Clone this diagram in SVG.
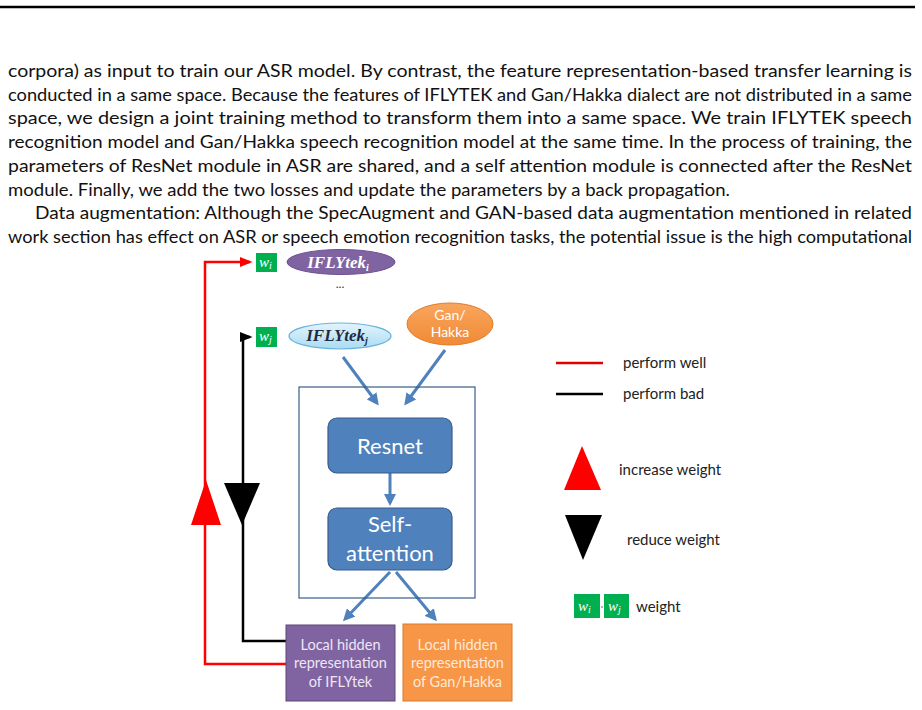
<svg xmlns="http://www.w3.org/2000/svg" width="922" height="710" viewBox="0 0 922 710">
<defs>
<style>
.body{font-family:Lato,"Liberation Sans",sans-serif;font-size:16.5px;fill:#111}
.lbl{font-family:Lato,"Liberation Sans",sans-serif;text-anchor:middle}
.leg{font-family:Lato,"Liberation Sans",sans-serif;font-size:15px;fill:#222}
.w{font-family:"Liberation Serif",serif;font-style:italic;fill:#fff;font-size:15px}
.ifly{font-family:"Liberation Serif",serif;font-style:italic;font-weight:bold;font-size:17px;text-anchor:middle}
.blue{stroke:#4F81BD;stroke-width:3;fill:none}
.wbox{fill:#00B050}
</style>
<marker id="ab" markerWidth="4" markerHeight="4" refX="3" refY="2" orient="auto" markerUnits="strokeWidth"><path d="M0,0 L4,2 L0,4 z" fill="#4F81BD"/></marker>
<marker id="ar" markerWidth="5" markerHeight="5" refX="4" refY="2.5" orient="auto" markerUnits="strokeWidth"><path d="M0,0.5 L5,2.5 L0,4.5 z" fill="#FF0000"/></marker>
<marker id="ak" markerWidth="5" markerHeight="5" refX="4" refY="2.5" orient="auto" markerUnits="strokeWidth"><path d="M0,0.5 L5,2.5 L0,4.5 z" fill="#000"/></marker>
<linearGradient id="gj" x1="0" y1="0" x2="0" y2="1"><stop offset="0" stop-color="#e3f4fc"/><stop offset="1" stop-color="#a9dcf2"/></linearGradient>
<linearGradient id="go" x1="0" y1="0" x2="0" y2="1"><stop offset="0" stop-color="#f9a65e"/><stop offset="1" stop-color="#f08a35"/></linearGradient>
</defs>
<rect width="922" height="710" fill="#fff"/>
<line x1="0" y1="7" x2="915" y2="7" stroke="#000" stroke-width="2.5"/>
<g id="text">
<text class="body" x="8" y="77" textLength="904" lengthAdjust="spacingAndGlyphs">corpora) as input to train our ASR model. By contrast, the feature representation-based transfer learning is</text>
<text class="body" x="8" y="100.7" textLength="904" lengthAdjust="spacingAndGlyphs">conducted in a same space. Because the features of IFLYTEK and Gan/Hakka dialect are not distributed in a same</text>
<text class="body" x="8" y="124.4" textLength="904" lengthAdjust="spacingAndGlyphs">space, we design a joint training method to transform them into a same space. We train IFLYTEK speech</text>
<text class="body" x="8" y="148.1" textLength="904" lengthAdjust="spacingAndGlyphs">recognition model and Gan/Hakka speech recognition model at the same time. In the process of training, the</text>
<text class="body" x="8" y="171.8" textLength="904" lengthAdjust="spacingAndGlyphs">parameters of ResNet module in ASR are shared, and a self attention module is connected after the ResNet</text>
<text class="body" x="8" y="195.5" textLength="722" lengthAdjust="spacingAndGlyphs">module. Finally, we add the two losses and update the parameters by a back propagation.</text>
<text class="body" x="35" y="219.2" textLength="877" lengthAdjust="spacingAndGlyphs">Data augmentation: Although the SpecAugment and GAN-based data augmentation mentioned in related</text>
<text class="body" x="8" y="242.9" textLength="904" lengthAdjust="spacingAndGlyphs">work section has effect on ASR or speech emotion recognition tasks, the potential issue is the high computational</text>
</g>
<g id="connectors">
<path d="M286,664 H205 V262 H250" fill="none" stroke="#FF0000" stroke-width="2.5" marker-end="url(#ar)"/>
<path d="M286,641 H243 V337 H250" fill="none" stroke="#000" stroke-width="2.5" marker-end="url(#ak)"/>
<line class="blue" x1="343" y1="357" x2="377" y2="403" marker-end="url(#ab)"/>
<line class="blue" x1="445" y1="350" x2="406" y2="403" marker-end="url(#ab)"/>
<line class="blue" x1="390" y1="473" x2="390" y2="503" marker-end="url(#ab)"/>
<line class="blue" x1="390" y1="572" x2="345" y2="619" marker-end="url(#ab)"/>
<line class="blue" x1="396" y1="572" x2="435" y2="619" marker-end="url(#ab)"/>
<polygon points="191,525 206,480 221,525" fill="#FF0000"/>
<polygon points="224,483 260,483 242,525" fill="#000"/>
</g>
<g id="wi">
<rect class="wbox" x="256" y="253" width="21" height="19"/>
<text class="w" x="259" y="267">w<tspan font-size="10" dy="2">i</tspan></text>
</g>
<g id="wj">
<rect class="wbox" x="256" y="327" width="21" height="20"/>
<text class="w" x="259" y="341">w<tspan font-size="10" dy="2">j</tspan></text>
</g>
<g id="iflytek-i">
<ellipse cx="341" cy="262" rx="54" ry="12.5" fill="#8064A2" stroke="#6a5090" stroke-width="1"/>
<text class="ifly" x="338" y="268" fill="#fff">IFLYtek<tspan font-size="10" dy="3">i</tspan></text>
</g>
<text x="340" y="288" font-family="Lato,sans-serif" font-size="12" text-anchor="middle" fill="#333">...</text>
<g id="iflytek-j">
<ellipse cx="340" cy="336" rx="51" ry="13" fill="url(#gj)" stroke="#6ab3dd" stroke-width="1.2"/>
<text class="ifly" x="337" y="341" fill="#1f2a44">IFLYtek<tspan font-size="10" dy="3">j</tspan></text>
</g>
<g id="ganhakka">
<ellipse cx="450" cy="324" rx="43" ry="21" fill="url(#go)" stroke="#e07b2a" stroke-width="1"/>
<text class="lbl" x="450" y="320" font-size="14" fill="#fff">Gan/</text>
<text class="lbl" x="450" y="337" font-size="14" fill="#fff">Hakka</text>
</g>
<g id="shared">
<rect x="299" y="387" width="176" height="211" fill="none" stroke="#385d8a" stroke-width="1.2"/>
</g>
<g id="resnet">
<rect x="328" y="418" width="124" height="55" rx="9" fill="#4F81BD" stroke="#385d8a" stroke-width="1.2"/>
<text class="lbl" x="390" y="454" font-size="22" fill="#fff">Resnet</text>
</g>
<g id="selfatt">
<rect x="328" y="508" width="124" height="62" rx="9" fill="#4F81BD" stroke="#385d8a" stroke-width="1.2"/>
<text class="lbl" x="390" y="532" font-size="22" fill="#fff">Self-</text>
<text class="lbl" x="390" y="561" font-size="22" fill="#fff">attention</text>
</g>
<g id="local-iflytek">
<rect x="286" y="625" width="109" height="76" fill="#8064A2" stroke="#5c4776" stroke-width="1"/>
<text class="lbl" x="340.5" y="650" font-size="14.5" fill="#eee6f5">Local hidden</text>
<text class="lbl" x="340.5" y="668" font-size="14.5" fill="#eee6f5">representation</text>
<text class="lbl" x="340.5" y="687" font-size="14.5" fill="#eee6f5">of IFLYtek</text>
</g>
<g id="local-gan">
<rect x="403" y="624" width="109" height="77" fill="#F79646" stroke="#d97a2e" stroke-width="1"/>
<text class="lbl" x="457.5" y="650" font-size="14.5" fill="#fde9d9">Local hidden</text>
<text class="lbl" x="457.5" y="668" font-size="14.5" fill="#fde9d9">representation</text>
<text class="lbl" x="457.5" y="687" font-size="14.5" fill="#fde9d9">of Gan/Hakka</text>
</g>
<g id="legend">
<line x1="556" y1="363" x2="603" y2="363" stroke="#e00000" stroke-width="2.5"/>
<text class="leg" x="623" y="368">perform well</text>
<line x1="556" y1="394" x2="603" y2="394" stroke="#000" stroke-width="2.5"/>
<text class="leg" x="623" y="399">perform bad</text>
<polygon points="564,490 582,446 601,490" fill="#FF0000"/>
<text class="leg" x="619" y="475">increase  weight</text>
<polygon points="565,515 602,515 583,560" fill="#000"/>
<text class="leg" x="627" y="545">reduce  weight</text>
<rect class="wbox" x="574" y="594" width="26" height="24"/>
<text class="w" x="578" y="611">w<tspan font-size="10" dy="2">i</tspan></text>
<circle cx="602" cy="607" r="0.8" fill="#555"/>
<rect class="wbox" x="604" y="594" width="25" height="24"/>
<text class="w" x="608" y="611">w<tspan font-size="10" dy="2">j</tspan></text>
<text class="leg" x="636" y="612">weight</text>
</g>
</svg>
